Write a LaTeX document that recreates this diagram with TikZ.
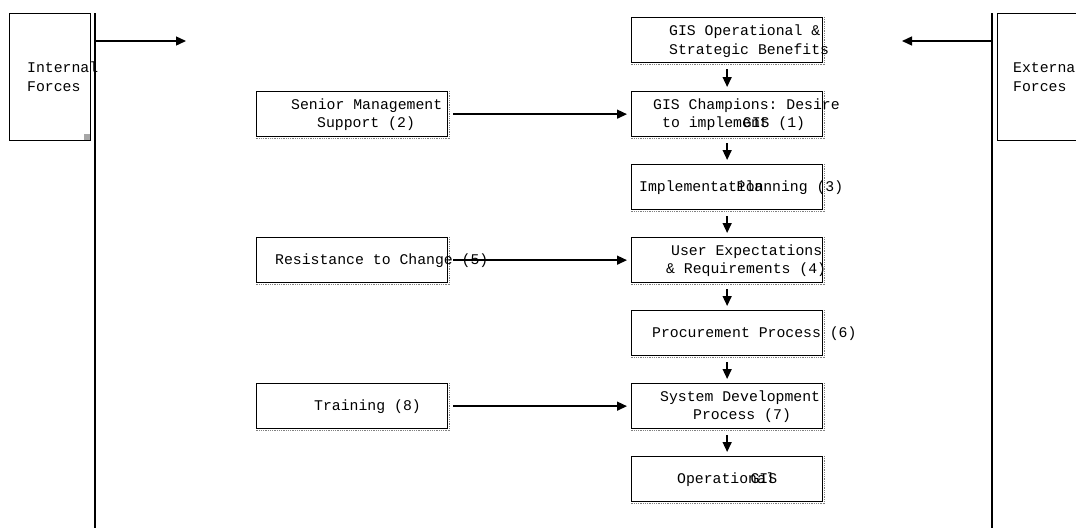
\documentclass[tikz,border=0pt]{standalone}
\usepackage{fontspec}
\setmonofont{Liberation Mono}
\usetikzlibrary{arrows.meta}
\begin{document}
\begin{tikzpicture}[x=1pt,y=-1pt,
  every node/.style={font=\fontsize{14.8}{18.5}\selectfont\ttfamily},
  box/.style={draw, line width=1.3pt, inner sep=0pt, anchor=north west, minimum width=191pt, minimum height=45pt},
  sidebox/.style={draw, line width=1.3pt, inner sep=0pt, anchor=north west, minimum height=127pt},
  txt/.style={anchor=base west, inner sep=0pt, align=left},
  shade/.style={densely dotted, line width=0.8pt, gray},
  conn/.style={line width=1.4pt, -{Triangle[length=10pt,width=9pt]}},
  wall/.style={line width=1.5pt}]
\clip (0,0) rectangle (1076,528);
\useasboundingbox (0,0) rectangle (1076,528);
% side force boxes
\node[sidebox, minimum width=81pt] (int) at (9,13) {};
\node[sidebox, minimum width=100pt] (ext) at (997,13) {};
\fill[gray!70] (84,134) rectangle (90,140);
\node[txt] (intT) at (27,91) {Internal\\Forces};
\node[txt] (extT) at (1013,91) {External\\Forces};
% walls
\coordinate (wlTop) at (95,13);
\coordinate (wlBot) at (95,528);
\coordinate (wrTop) at (992,13);
\coordinate (wrBot) at (992,528);
\draw[wall] (wlTop) -- (wlBot);
\draw[wall] (wrTop) -- (wrBot);
\coordinate (wlA) at (95,41);
\coordinate (wlB) at (186,41);
\coordinate (wrA) at (992,41);
\coordinate (wrB) at (902,41);
\draw[conn] (wlA) -- (wlB);
\draw[conn] (wrA) -- (wrB);
% central boxes
\node[box] (A) at (631,17) {};
\node[box] (B) at (631,91) {};
\node[box] (C) at (631,164) {};
\node[box] (D) at (631,237) {};
\node[box] (E) at (631,310) {};
\node[box] (F) at (631,383) {};
\node[box] (G) at (631,456) {};
% left boxes
\node[box] (S) at (256,91) {};
\node[box] (R) at (256,237) {};
\node[box] (T) at (256,383) {};
% dotted shadow edges
\foreach \n in {A,B,C,D,E,F,G,S,R,T}{
  \draw[shade] ([shift={(1.5pt,0pt)}]\n.north east) -- ([shift={(1.5pt,-1.5pt)}]\n.south east) -- ([shift={(0pt,-1.5pt)}]\n.south west);
}
% texts
\node[txt] (At) at (669,54) {GIS Operational \&\\Strategic Benefits};
\node[txt] (Bt) at (653,127.6) {GIS Champions: Desire\\\hspace*{9pt}to implement\kern-25.8ptGIS (1)};
\node[txt] (Ct) at (639,191.7) {Implementation\kern-26.9ptPlanning (3)};
\node[txt] (Dt) at (666,273.6) {\hspace*{5pt}User Expectations\\\& Requirements (4)};
\node[txt] (Et) at (652,337.7) {Procurement Process (6)};
\node[txt] (Ft) at (660,419.8) {System Development\\\hspace*{33pt}Process (7)};
\node[txt] (Gt) at (677,483.4) {Operational\kern-24.3ptGIS};
\node[txt] (St) at (291,127.6) {Senior Management\\\hspace*{26pt}Support (2)};
\node[txt] (Rt) at (275,264) {Resistance to Change (5)};
\node[txt] (Tt) at (314,410) {Training (8)};
% vertical arrows
\foreach \a/\b in {A/B,B/C,C/D,D/E,E/F,F/G}{
  \draw[conn, shorten <=6pt, shorten >=4pt] (\a.south) -- (\b.north);
}
% horizontal arrows
\foreach \a/\b in {S/B,R/D,T/F}{
  \draw[conn, shorten <=5pt, shorten >=4pt] (\a.east) -- (\b.west);
}
\end{tikzpicture}
\end{document}
